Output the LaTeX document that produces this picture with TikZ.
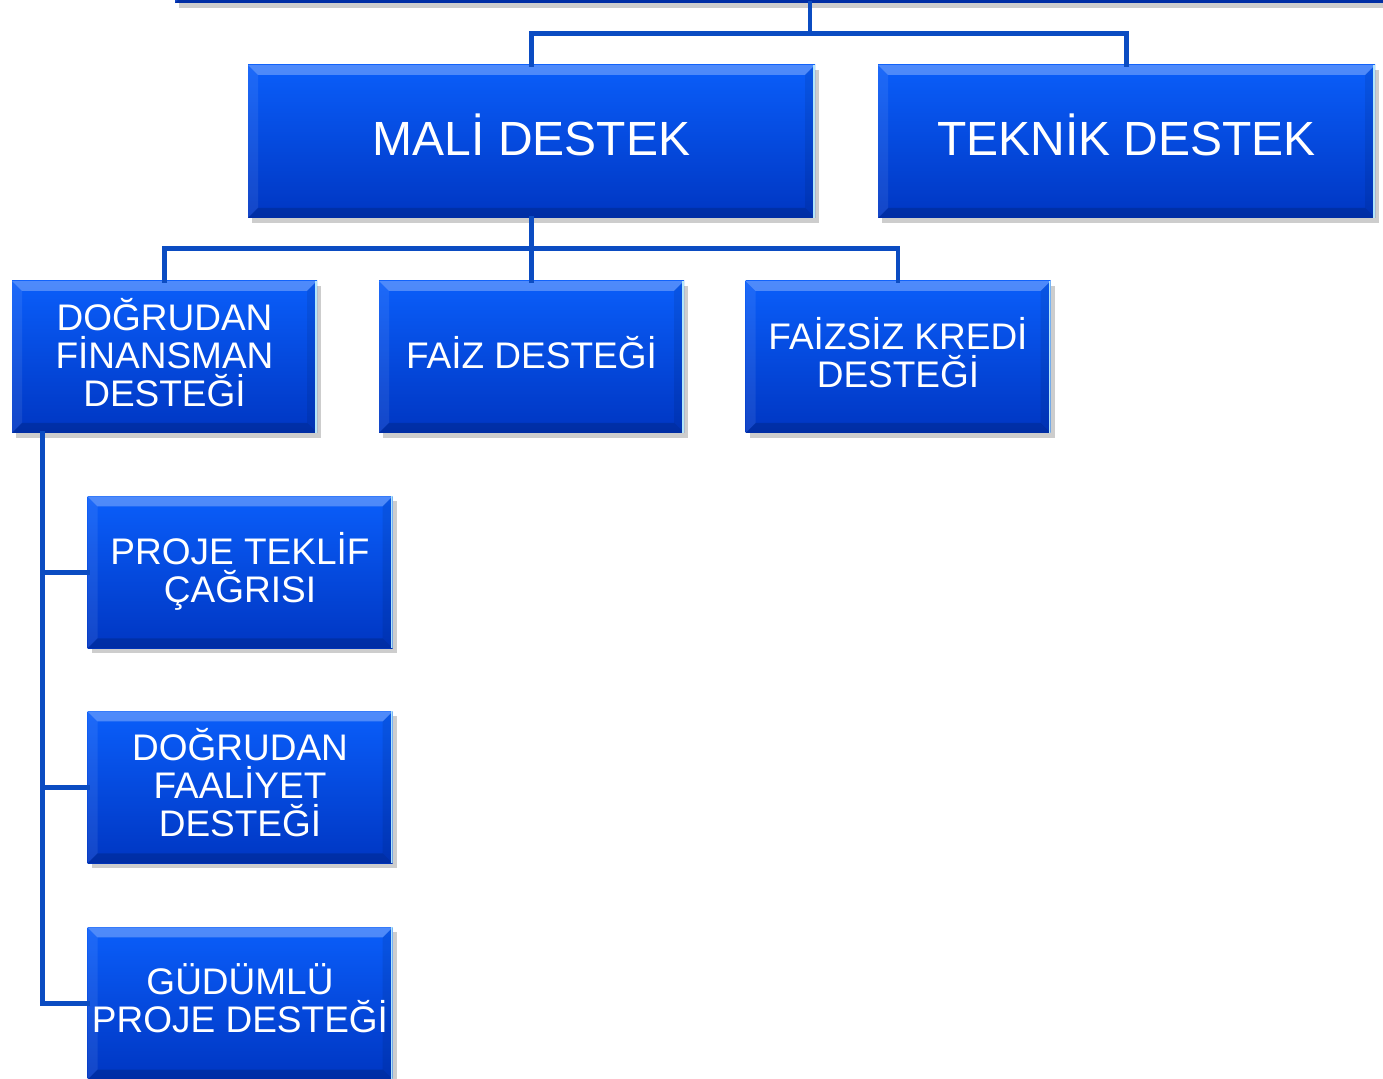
\documentclass[tikz,border=0pt]{standalone}
\usepackage{fontspec}
\setmainfont{Liberation Sans}
\usetikzlibrary{calc,shadows}
\definecolor{supporttop}{HTML}{0A5EFA}
\definecolor{supportbottom}{HTML}{0036C2}
\definecolor{supportline}{HTML}{0B4CC2}
\tikzset{
  support box/.style={
    rectangle, draw=none,
    top color=supporttop, bottom color=supportbottom,
    text=white, align=center, inner sep=2pt,
    drop shadow={shadow xshift=2pt, shadow yshift=-2.5pt, opacity=0.28, fill=black!70},
    path picture={
      \fill[white, opacity=0.28] (path picture bounding box.north west) -- (path picture bounding box.north east)
        -- ($(path picture bounding box.north east)+(-5pt,-5pt)$) -- ($(path picture bounding box.north west)+(5pt,-5pt)$) -- cycle;
      \fill[white, opacity=0.08] (path picture bounding box.north west) -- (path picture bounding box.south west)
        -- ($(path picture bounding box.south west)+(5pt,5pt)$) -- ($(path picture bounding box.north west)+(5pt,-5pt)$) -- cycle;
      \fill[black, opacity=0.15] (path picture bounding box.south west) -- (path picture bounding box.south east)
        -- ($(path picture bounding box.south east)+(-5pt,5pt)$) -- ($(path picture bounding box.south west)+(5pt,5pt)$) -- cycle;
      \fill[black, opacity=0.08] (path picture bounding box.north east) -- (path picture bounding box.south east)
        -- ($(path picture bounding box.south east)+(-5pt,5pt)$) -- ($(path picture bounding box.north east)+(-5pt,-5pt)$) -- cycle;
      \draw[white!70!cyan, line width=1pt] ($(path picture bounding box.north east)+(-0.5pt,0)$) -- ($(path picture bounding box.south east)+(-0.5pt,0)$);
    }
  },
  support big/.style={support box, minimum height=76.5pt, text depth=7pt, font=\fontsize{24}{28}\selectfont},
  support small/.style={support box, minimum width=152.5pt, minimum height=76pt, text depth=5pt, font=\fontsize{18.5}{19}\selectfont},
  support line/.style={draw=supportline, line width=2.4pt, line cap=rect}
}

\begin{document}
\begin{tikzpicture}[x=0.5pt,y=-0.5pt]
  \useasboundingbox (0,0) rectangle (1383,1079);
  \clip (0,0) rectangle (1383,1079);

  \node[support big,minimum width=283.5pt] (mali) at (531.5,141.5) {MALİ DESTEK};
  \node[support big,minimum width=248.5pt] (teknik) at (1126.5,141.5) {TEKNİK DESTEK};

  \node[support small] (dfin) at (164.5,357) {DOĞRUDAN\\FİNANSMAN\\DESTEĞİ};
  \node[support small] (faiz) at (531.5,357) {FAİZ DESTEĞİ};
  \node[support small] (faizsiz) at (898,357) {FAİZSİZ KREDİ\\DESTEĞİ};

  \node[support small] (proje) at (240,572.5) {PROJE TEKLİF\\ÇAĞRISI};
  \node[support small] (dfaal) at (240,787.5) {DOĞRUDAN\\FAALİYET\\DESTEĞİ};
  \node[support small] (gudumlu) at (240,1003.5) {GÜDÜMLÜ\\PROJE DESTEĞİ};

  % box cut off by the top edge
  \node[support big,minimum width=635pt] (top) at (810,-73.5) {};

  \draw[support line] (top.south) -- ++(0,30) -| (mali.north);
  \draw[support line] (top.south) -- ++(0,30) -| (teknik.north);

  \draw[support line] (mali.south) -- ++(0,30) -| (dfin.north);
  \draw[support line] (mali.south) -- (faiz.north);
  \draw[support line] (mali.south) -- ++(0,30) -| (faizsiz.north);

  \draw[support line] ($(dfin.south west)+(31,0)$) |- (proje.west);
  \draw[support line] ($(dfin.south west)+(31,0)$) |- (dfaal.west);
  \draw[support line] ($(dfin.south west)+(31,0)$) |- (gudumlu.west);
\end{tikzpicture}
\end{document}
